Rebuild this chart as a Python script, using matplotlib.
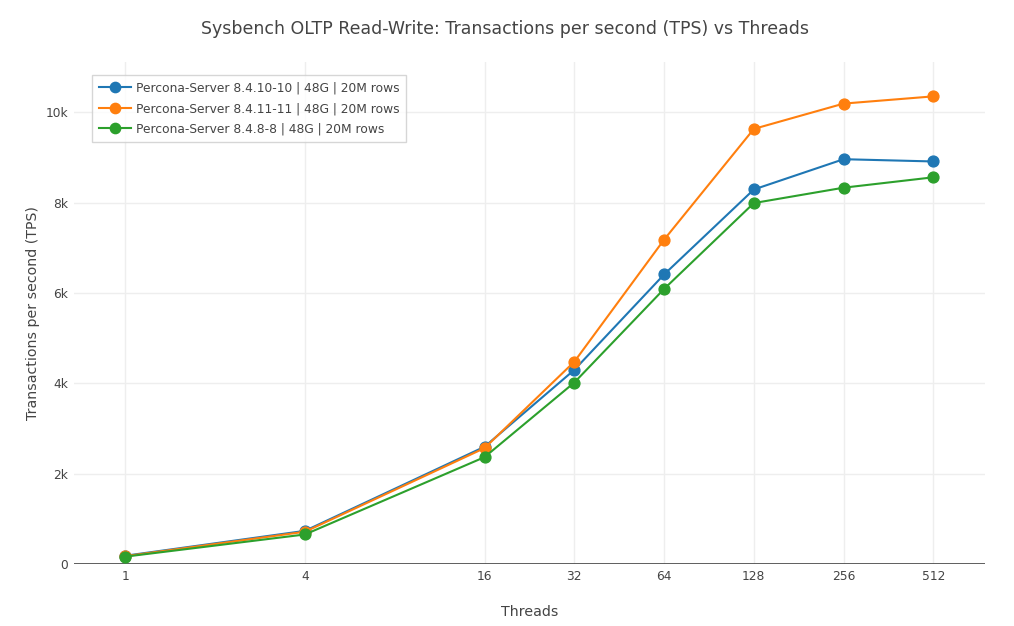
import matplotlib.pyplot as plt
from matplotlib.ticker import FixedLocator, FuncFormatter, NullLocator

# data
threads = [1, 4, 16, 32, 64, 128, 256, 512]
tps_8410 = [190, 740, 2600, 4300, 6410, 8290, 8960, 8910]
tps_8411 = [180, 720, 2570, 4480, 7180, 9630, 10190, 10350]
tps_848 = [170, 660, 2370, 4020, 6090, 7990, 8330, 8560]
names = ["Percona-Server 8.4.10-10 | 48G | 20M rows",
         "Percona-Server 8.4.11-11 | 48G | 20M rows",
         "Percona-Server 8.4.8-8 | 48G | 20M rows"]
colors = ["#1f77b4", "#ff7f0e", "#2ca02c"]
yticks = [0, 2000, 4000, 6000, 8000, 10000]

plt.rcParams['font.family'] = ['DejaVu Sans']
fig = plt.figure(figsize=(10.14, 6.26), dpi=100)
ax = fig.add_axes([74 / 1014, 1 - 564.3 / 626, 911 / 1014, 502.3 / 626])

for ys, name, c in zip([tps_8410, tps_8411, tps_848], names, colors):
    ax.plot(threads, ys, color=c, lw=1.5, marker='o', ms=7.8, label=name,
            zorder=3, clip_on=False)

ax.set_xscale('log', base=2)
ax.set_xlim(2 ** -0.573, 2 ** 9.575)
ax.set_ylim(0, 11110)
ax.xaxis.set_major_locator(FixedLocator(threads))
ax.xaxis.set_minor_locator(NullLocator())
ax.xaxis.set_major_formatter(FuncFormatter(lambda v, p: f"{int(round(v))}"))
ax.yaxis.set_major_locator(FixedLocator(yticks))
ax.yaxis.set_major_formatter(FuncFormatter(lambda v, p: "0" if v == 0 else f"{int(v / 1000)}k"))

for s in ax.spines.values():
    s.set_visible(False)
ax.grid(True, color='#eeeeee', lw=1, zorder=0)
ax.set_axisbelow(True)
ax.axhline(0, color='#444444', lw=1.2, zorder=2)
ax.tick_params(length=0, labelsize=8.8, colors='#444444', pad=4)

ax.set_xlabel("Threads", fontsize=10.2, color='#444444', labelpad=16)
ax.set_ylabel("Transactions per second (TPS)", fontsize=10.2, color='#444444', labelpad=4)
fig.suptitle("Sysbench OLTP Read-Write: Transactions per second (TPS) vs Threads",
             x=0.498, y=1 - 29 / 626, va='center', fontsize=12.5, color='#444444')

leg = ax.legend(loc='upper left', bbox_to_anchor=(18 / 911, 1 - 13 / 502.3),
                fontsize=8.8, frameon=True, fancybox=False, borderaxespad=0,
                handlelength=2.6, handletextpad=0.45, labelspacing=0.6,
                borderpad=0.55, markerscale=0.95)
leg.get_frame().set_edgecolor('#cccccc')
leg.get_frame().set_linewidth(1)
for t in leg.get_texts():
    t.set_color('#444444')

fig.savefig("out.png", dpi=100)
